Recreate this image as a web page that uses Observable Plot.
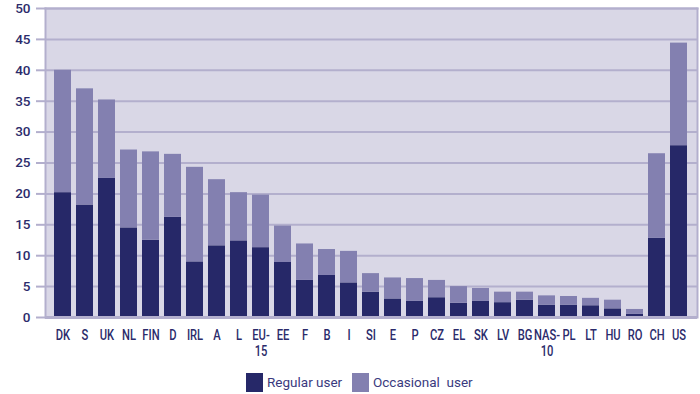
<!DOCTYPE html>
<html>
<head>
<meta charset="utf-8">
<script src="https://cdn.jsdelivr.net/npm/d3@7"></script>
<script src="https://cdn.jsdelivr.net/npm/@observablehq/plot@0.6"></script>
<style>
  html, body { margin: 0; padding: 0; background: #fff; }
  #chart { width: 700px; }
  .legend { display: flex; align-items: center; height: 24px; margin-top: 8px;
    font-family: Roboto, "Open Sans", sans-serif; font-size: 13.5px; color: #3a3a7e; }
  .sw { width: 17px; height: 19px; display: inline-block; margin-right: 4px; }
</style>
</head>
<body>
<div id="chart"></div>
<script>
const countries = ["DK","S","UK","NL","FIN","D","IRL","A","L","EU-15","EE","F","B","I","SI","E","P","CZ","EL","SK","LV","BG","NAS-10","PL","LT","HU","RO","CH","US"];
const tickLabels = ["DK","S","UK","NL","FIN","D","IRL","A","L","EU-\n15","EE","F","B","I","SI","E","P","CZ","EL","SK","LV","BG","NAS-\n10","PL","LT","HU","RO","CH","US"];
const regular =    [20.2,18.2,22.5,14.5,12.5,16.2, 9.0,11.6,12.4,11.3,8.9,6.0,6.8,5.6,4.1,3.0,2.6,3.2,2.3,2.6,2.4,2.8,2.0,2.0,1.9,1.4,0.5,12.8,27.8];
const occasional = [19.8,18.8,12.7,12.6,14.3,10.2,15.3,10.7, 7.8, 8.5,5.9,5.9,4.2,5.1,3.0,3.4,3.7,2.8,2.7,2.1,1.7,1.3,1.5,1.4,1.2,1.4,0.8,13.7,16.6];
const yTicks = [0,5,10,15,20,25,30,35,40,45,50];
const seriesNames = ["Regular user", "Occasional  user"];
const colors = ["#262868", "#8380b0"];

const rows = countries.map((c, i) => ({country: c, regular: regular[i], total: regular[i] + occasional[i]}));
const labelOf = new Map(countries.map((c, i) => [c, tickLabels[i]]));

const gridColor = "#b3afcd";
const textColor = "#2b2b6b";

// condense x tick labels horizontally (the reference uses a condensed face)
function condense(index, scales, values, dims, ctx, next) {
  const g = next(index, scales, values, dims, ctx);
  g.querySelectorAll("text").forEach(t => {
    const tr = t.getAttribute("transform");
    if (tr) t.setAttribute("transform", tr + " scale(0.8,1)");
  });
  return g;
}

const chart = Plot.plot({
  width: 700,
  height: 362,
  marginTop: 8,
  marginBottom: 45,
  marginLeft: 45,
  marginRight: 3,
  style: {fontFamily: "Roboto, 'Open Sans', sans-serif", fontSize: "13.5px", color: textColor, background: "white"},
  x: {domain: countries, padding: 0.22, label: null},
  y: {domain: [0, 50], label: null},
  marks: [
    Plot.frame({fill: "#d9d7e6", stroke: null}),
    Plot.gridY(yTicks, {stroke: gridColor, strokeOpacity: 1, strokeWidth: 2}),
    Plot.barY(rows, {x: "country", y: "regular", fill: colors[0]}),
    Plot.barY(rows, {x: "country", y1: "regular", y2: "total", fill: colors[1]}),
    Plot.frame({stroke: gridColor, strokeWidth: 2, anchor: "left"}),
    Plot.frame({stroke: gridColor, strokeWidth: 2, anchor: "right"}),
    Plot.frame({stroke: gridColor, strokeWidth: 2, anchor: "top"}),
    Plot.ruleY([0], {stroke: gridColor, strokeWidth: 3}),
    Plot.axisY(yTicks, {tickSize: 9, tickPadding: 6, stroke: gridColor, strokeWidth: 2, strokeOpacity: 1,
      fontWeight: 500, fill: textColor, fontSize: 13.5}),
    Plot.axisX({tickSize: 0, tickPadding: 12, fontWeight: 500, fill: textColor, fontSize: 14, lineHeight: 1.1,
      tickFormat: c => labelOf.get(c), render: condense})
  ]
});
document.getElementById("chart").appendChild(chart);

const legend = document.createElement("div");
legend.className = "legend";
legend.innerHTML = `<span style="width:246px"></span>` +
  `<span class="sw" style="background:${colors[0]}"></span><span style="width:85px">${seriesNames[0]}</span>` +
  `<span class="sw" style="background:${colors[1]}"></span><span style="white-space:pre">${seriesNames[1]}</span>`;
document.getElementById("chart").appendChild(legend);
</script>
</body>
</html>
